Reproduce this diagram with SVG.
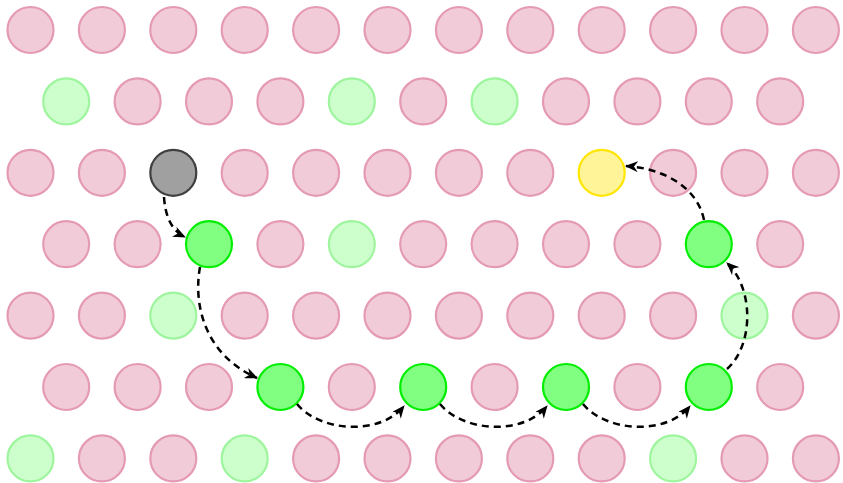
<svg xmlns="http://www.w3.org/2000/svg" width="843" height="483" viewBox="0 0 843 483">
<style>
circle{stroke-width:2.2}
.p{fill:#f1cbd8;stroke:#e59ab4}
.lg{fill:#ccffcc;stroke:#9ef59e}
.g{fill:#80ff80;stroke:#00ee00}
.k{fill:#a0a0a0;stroke:#404040}
.y{fill:#fff598;stroke:#ffe500}
.e{fill:none;stroke:#000;stroke-width:2.5;stroke-dasharray:7 5;marker-end:url(#ah)}
</style>
<defs>
<marker id="ah" viewBox="0 0 13 11" refX="12" refY="5.5" markerWidth="13" markerHeight="11" markerUnits="userSpaceOnUse" orient="auto">
<path d="M0,0 L13,5.5 L0,11 L4,5.5 Z" fill="#000"/>
</marker>
</defs>
<g id="nodes">
<g id="r0c0"><circle class="p" cx="30.5" cy="30" r="23"/></g>
<g id="r0c1"><circle class="p" cx="101.9" cy="30" r="23"/></g>
<g id="r0c2"><circle class="p" cx="173.3" cy="30" r="23"/></g>
<g id="r0c3"><circle class="p" cx="244.7" cy="30" r="23"/></g>
<g id="r0c4"><circle class="p" cx="316.1" cy="30" r="23"/></g>
<g id="r0c5"><circle class="p" cx="387.5" cy="30" r="23"/></g>
<g id="r0c6"><circle class="p" cx="458.9" cy="30" r="23"/></g>
<g id="r0c7"><circle class="p" cx="530.3" cy="30" r="23"/></g>
<g id="r0c8"><circle class="p" cx="601.7" cy="30" r="23"/></g>
<g id="r0c9"><circle class="p" cx="673.1" cy="30" r="23"/></g>
<g id="r0c10"><circle class="p" cx="744.5" cy="30" r="23"/></g>
<g id="r0c11"><circle class="p" cx="815.9" cy="30" r="23"/></g>

<g id="r1c0"><circle class="lg" cx="66.2" cy="101.4" r="23"/></g>
<g id="r1c1"><circle class="p" cx="137.6" cy="101.4" r="23"/></g>
<g id="r1c2"><circle class="p" cx="209" cy="101.4" r="23"/></g>
<g id="r1c3"><circle class="p" cx="280.4" cy="101.4" r="23"/></g>
<g id="r1c4"><circle class="lg" cx="351.8" cy="101.4" r="23"/></g>
<g id="r1c5"><circle class="p" cx="423.2" cy="101.4" r="23"/></g>
<g id="r1c6"><circle class="lg" cx="494.6" cy="101.4" r="23"/></g>
<g id="r1c7"><circle class="p" cx="566" cy="101.4" r="23"/></g>
<g id="r1c8"><circle class="p" cx="637.4" cy="101.4" r="23"/></g>
<g id="r1c9"><circle class="p" cx="708.8" cy="101.4" r="23"/></g>
<g id="r1c10"><circle class="p" cx="780.2" cy="101.4" r="23"/></g>

<g id="r2c0"><circle class="p" cx="30.5" cy="172.8" r="23"/></g>
<g id="r2c1"><circle class="p" cx="101.9" cy="172.8" r="23"/></g>
<g id="r2c2"><circle class="k" cx="173.3" cy="172.8" r="23"/></g>
<g id="r2c3"><circle class="p" cx="244.7" cy="172.8" r="23"/></g>
<g id="r2c4"><circle class="p" cx="316.1" cy="172.8" r="23"/></g>
<g id="r2c5"><circle class="p" cx="387.5" cy="172.8" r="23"/></g>
<g id="r2c6"><circle class="p" cx="458.9" cy="172.8" r="23"/></g>
<g id="r2c7"><circle class="p" cx="530.3" cy="172.8" r="23"/></g>
<g id="r2c8"><circle class="y" cx="601.7" cy="172.8" r="23"/></g>
<g id="r2c9"><circle class="p" cx="673.1" cy="172.8" r="23"/></g>
<g id="r2c10"><circle class="p" cx="744.5" cy="172.8" r="23"/></g>
<g id="r2c11"><circle class="p" cx="815.9" cy="172.8" r="23"/></g>

<g id="r3c0"><circle class="p" cx="66.2" cy="244.2" r="23"/></g>
<g id="r3c1"><circle class="p" cx="137.6" cy="244.2" r="23"/></g>
<g id="r3c2"><circle class="g" cx="209" cy="244.2" r="23"/></g>
<g id="r3c3"><circle class="p" cx="280.4" cy="244.2" r="23"/></g>
<g id="r3c4"><circle class="lg" cx="351.8" cy="244.2" r="23"/></g>
<g id="r3c5"><circle class="p" cx="423.2" cy="244.2" r="23"/></g>
<g id="r3c6"><circle class="p" cx="494.6" cy="244.2" r="23"/></g>
<g id="r3c7"><circle class="p" cx="566" cy="244.2" r="23"/></g>
<g id="r3c8"><circle class="p" cx="637.4" cy="244.2" r="23"/></g>
<g id="r3c9"><circle class="g" cx="708.8" cy="244.2" r="23"/></g>
<g id="r3c10"><circle class="p" cx="780.2" cy="244.2" r="23"/></g>

<g id="r4c0"><circle class="p" cx="30.5" cy="315.6" r="23"/></g>
<g id="r4c1"><circle class="p" cx="101.9" cy="315.6" r="23"/></g>
<g id="r4c2"><circle class="lg" cx="173.3" cy="315.6" r="23"/></g>
<g id="r4c3"><circle class="p" cx="244.7" cy="315.6" r="23"/></g>
<g id="r4c4"><circle class="p" cx="316.1" cy="315.6" r="23"/></g>
<g id="r4c5"><circle class="p" cx="387.5" cy="315.6" r="23"/></g>
<g id="r4c6"><circle class="p" cx="458.9" cy="315.6" r="23"/></g>
<g id="r4c7"><circle class="p" cx="530.3" cy="315.6" r="23"/></g>
<g id="r4c8"><circle class="p" cx="601.7" cy="315.6" r="23"/></g>
<g id="r4c9"><circle class="p" cx="673.1" cy="315.6" r="23"/></g>
<g id="r4c10"><circle class="lg" cx="744.5" cy="315.6" r="23"/></g>
<g id="r4c11"><circle class="p" cx="815.9" cy="315.6" r="23"/></g>

<g id="r5c0"><circle class="p" cx="66.2" cy="387" r="23"/></g>
<g id="r5c1"><circle class="p" cx="137.6" cy="387" r="23"/></g>
<g id="r5c2"><circle class="p" cx="209" cy="387" r="23"/></g>
<g id="r5c3"><circle class="g" cx="280.4" cy="387" r="23"/></g>
<g id="r5c4"><circle class="p" cx="351.8" cy="387" r="23"/></g>
<g id="r5c5"><circle class="g" cx="423.2" cy="387" r="23"/></g>
<g id="r5c6"><circle class="p" cx="494.6" cy="387" r="23"/></g>
<g id="r5c7"><circle class="g" cx="566" cy="387" r="23"/></g>
<g id="r5c8"><circle class="p" cx="637.4" cy="387" r="23"/></g>
<g id="r5c9"><circle class="g" cx="708.8" cy="387" r="23"/></g>
<g id="r5c10"><circle class="p" cx="780.2" cy="387" r="23"/></g>

<g id="r6c0"><circle class="lg" cx="30.5" cy="458.4" r="23"/></g>
<g id="r6c1"><circle class="p" cx="101.9" cy="458.4" r="23"/></g>
<g id="r6c2"><circle class="p" cx="173.3" cy="458.4" r="23"/></g>
<g id="r6c3"><circle class="lg" cx="244.7" cy="458.4" r="23"/></g>
<g id="r6c4"><circle class="p" cx="316.1" cy="458.4" r="23"/></g>
<g id="r6c5"><circle class="p" cx="387.5" cy="458.4" r="23"/></g>
<g id="r6c6"><circle class="p" cx="458.9" cy="458.4" r="23"/></g>
<g id="r6c7"><circle class="p" cx="530.3" cy="458.4" r="23"/></g>
<g id="r6c8"><circle class="p" cx="601.7" cy="458.4" r="23"/></g>
<g id="r6c9"><circle class="lg" cx="673.1" cy="458.4" r="23"/></g>
<g id="r6c10"><circle class="p" cx="744.5" cy="458.4" r="23"/></g>
<g id="r6c11"><circle class="p" cx="815.9" cy="458.4" r="23"/></g>
</g>
<g id="connectors">
<path class="e" d="M164,197 Q166,228 185,237"/>
<path class="e" d="M200,267 C193,305 205,355 257,378"/>
<path class="e" d="M297,404 C320,432 380,436 404,406"/>
<path class="e" d="M440,404 C463,432 523,436 547,406"/>
<path class="e" d="M583,404 C606,432 666,436 690,406"/>
<path class="e" d="M727,369 C754,345 754,288 727,263"/>
<path class="e" d="M704,220 C697,185 660,168 626,166"/>
</g>
</svg>
